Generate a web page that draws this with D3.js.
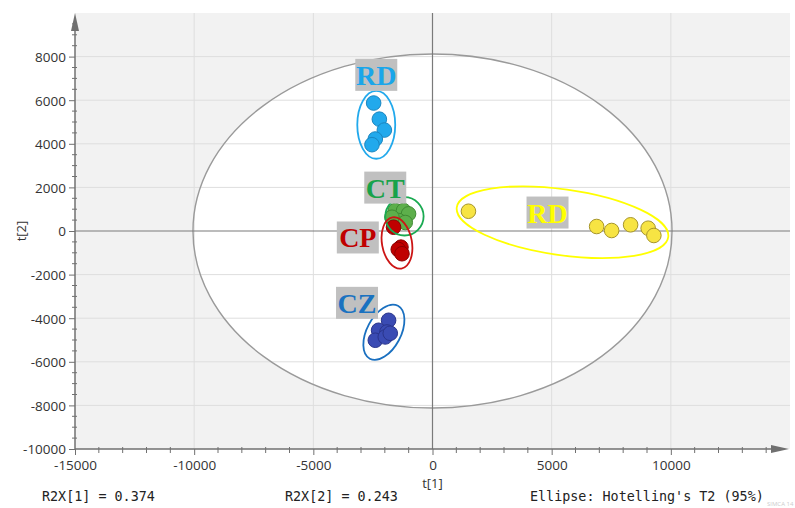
<!DOCTYPE html>
<html>
<head>
<meta charset="utf-8">
<script src="https://cdn.jsdelivr.net/npm/d3@7"></script>
<style>
  html, body { margin: 0; padding: 0; background: #ffffff; }
  svg { display: block; }
</style>
</head>
<body>
<svg id="chart" width="795" height="508"></svg>
<script>
// Score values (t[1], t[2]) for each sample group
const groupNames = ["RD", "CT", "CP", "CZ", "RD"];
const rdBlueT1 = [-2470, -2230, -2020, -2400, -2540];
const rdBlueT2 = [5870, 5130, 4630, 4220, 3960];
const ctT1 = [-1563, -1215, -1005, -1424, -1701, -1144];
const ctT2 = [938, 938, 787, 481, 632, 389];
const cpT1 = [-1634, -1324, -1437, -1282];
const cpT2 = [174, -741, -847, -1043];
const czT1 = [-1843, -2262, -1910, -2400, -1982, -1772];
const czT2 = [-4096, -4554, -4632, -5011, -4860, -4691];
const rdYellowT1 = [1508, 6887, 7516, 8312, 9049, 9288];
const rdYellowT2 = [906, 206, 23, 284, 128, -206];

// Axis ticks
const xTicks = [-15000, -10000, -5000, 0, 5000, 10000];
const yTicks = [-10000, -8000, -6000, -4000, -2000, 0, 2000, 4000, 6000, 8000];

// Hotelling's T2 (95%) ellipse semi-axes
const t2Radius = [10050, 8120];

// Footer statistics
const footerTexts = ["R2X[1] = 0.374", "R2X[2] = 0.243", "Ellipse: Hotelling's T2 (95%)"];

const series = [
  { name: groupNames[0], t1: rdBlueT1, t2: rdBlueT2, fill: "#22a9ec", stroke: "#1a86c0", ring: "#22a9ec", text: "#1aa6ea",
    ell: { cx: -2360, cy: 4870, rx: 796, ry: 1556, rot: 0 }, lab: { x: -2359, y: 7162 } },
  { name: groupNames[1], t1: ctT1, t2: ctT2, fill: "#5daf4b", stroke: "#3f8a33", ring: "#1aaa52", text: "#19a24a",
    ell: { cx: -1177, cy: 673, rx: 804, ry: 879, rot: 0 }, lab: { x: -1982, y: 1991 } },
  { name: groupNames[2], t1: cpT1, t2: cpT2, fill: "#c00000", stroke: "#8c0000", ring: "#cc1515", text: "#c00000",
    ell: { cx: -1491, cy: -549, rx: 628, ry: 1190, rot: -10 }, lab: { x: -3134, y: -297 } },
  { name: groupNames[3], t1: czT1, t2: czT2, fill: "#3a4bb3", stroke: "#2a358c", ring: "#1a70c0", text: "#1a72c0",
    ell: { cx: -2040, cy: -4645, rx: 1257, ry: 778, rot: -62 }, lab: { x: -3167, y: -3295 } },
  { name: groupNames[4], t1: rdYellowT1, t2: rdYellowT2, fill: "#f7e443", stroke: "#a6952a", ring: "#ffff00", text: "#ffff00",
    ell: { cx: 5455, cy: 403, rx: 4480, ry: 1510, rot: 8 }, lab: { x: 4826, y: 847 } }
];

const svg = d3.select("#chart");
const plot = { left: 75, right: 790, top: 13, bottom: 449 };

const x = d3.scaleLinear().domain([-15000, 15000]).range([plot.left, plot.right]);
const y = d3.scaleLinear().domain([-10000, 10000]).range([plot.bottom, plot.top]);

const uiFont = "'Open Sans', 'Noto Sans', sans-serif";
const monoFont = "'DejaVu Sans Mono', 'Liberation Mono', monospace";

// Plot background
svg.append("rect")
  .attr("x", plot.left).attr("y", plot.top)
  .attr("width", plot.right - plot.left).attr("height", plot.bottom - plot.top)
  .attr("fill", "#f2f2f2");

svg.append("defs").append("clipPath").attr("id", "plotClip")
  .append("rect")
  .attr("x", plot.left).attr("y", plot.top)
  .attr("width", plot.right - plot.left).attr("height", plot.bottom - plot.top);

const inner = svg.append("g").attr("clip-path", "url(#plotClip)");

// T2 ellipse interior
const t2rx = x(t2Radius[0]) - x(0);
const t2ry = y(0) - y(t2Radius[1]);
inner.append("ellipse")
  .attr("cx", x(0)).attr("cy", y(0))
  .attr("rx", t2rx).attr("ry", t2ry)
  .attr("fill", "#ffffff");

// Grid lines
inner.selectAll(".gx").data(xTicks.filter(d => d !== 0 && d !== -15000)).join("line")
  .attr("x1", d => x(d)).attr("x2", d => x(d))
  .attr("y1", plot.top).attr("y2", plot.bottom)
  .attr("stroke", "#dedede").attr("stroke-width", 1);
inner.selectAll(".gy").data(yTicks.filter(d => d !== 0 && d !== -10000)).join("line")
  .attr("x1", plot.left).attr("x2", plot.right)
  .attr("y1", d => y(d)).attr("y2", d => y(d))
  .attr("stroke", "#dedede").attr("stroke-width", 1);

// T2 ellipse outline
inner.append("ellipse")
  .attr("cx", x(0)).attr("cy", y(0))
  .attr("rx", t2rx).attr("ry", t2ry)
  .attr("fill", "none").attr("stroke", "#9a9a9a").attr("stroke-width", 1.4);

// Zero lines
inner.append("line")
  .attr("x1", x(0)).attr("x2", x(0)).attr("y1", plot.top).attr("y2", plot.bottom)
  .attr("stroke", "#7a7a7a").attr("stroke-width", 1.2);
inner.append("line")
  .attr("x1", plot.left).attr("x2", plot.right).attr("y1", y(0)).attr("y2", y(0))
  .attr("stroke", "#7a7a7a").attr("stroke-width", 1.2);

// Points
series.forEach(s => {
  const pts = s.t1.map((v, i) => [v, s.t2[i]]);
  inner.append("g").selectAll("circle").data(pts).join("circle")
    .attr("cx", d => x(d[0])).attr("cy", d => y(d[1]))
    .attr("r", 7.3)
    .attr("fill", s.fill)
    .attr("stroke", s.stroke).attr("stroke-width", 1);
});

// Group ellipses
series.forEach(s => {
  const e = s.ell;
  const cx = x(e.cx), cy = y(e.cy);
  inner.append("ellipse")
    .attr("cx", cx).attr("cy", cy)
    .attr("rx", x(e.rx) - x(0))
    .attr("ry", y(0) - y(e.ry))
    .attr("transform", `rotate(${e.rot},${cx},${cy})`)
    .attr("fill", "none")
    .attr("stroke", s.ring).attr("stroke-width", 1.8);
});

// Group labels with gray boxes
series.forEach(s => {
  const cx = x(s.lab.x), cy = y(s.lab.y);
  const g = inner.append("g");
  g.append("rect")
    .attr("x", cx - 21).attr("y", cy - 16)
    .attr("width", 42).attr("height", 32)
    .attr("fill", "#c0c0c0");
  g.append("text")
    .attr("x", cx).attr("y", cy + 10)
    .attr("text-anchor", "middle")
    .attr("font-family", "'Liberation Serif', 'DejaVu Serif', serif")
    .attr("font-weight", "bold")
    .attr("font-size", 28)
    .attr("fill", s.text)
    .text(s.name);
});

// Axes
const axisColor = "#707070";
const axes = svg.append("g");

// Minor ticks
const xMinor = d3.range(-15000, 15000, 1000).filter(d => d % 5000 !== 0);
const yMinor = d3.range(-10000, 10000, 500).filter(d => d % 2000 !== 0);
axes.selectAll(".mx").data(xMinor).join("line")
  .attr("x1", d => x(d)).attr("x2", d => x(d))
  .attr("y1", plot.bottom - 2).attr("y2", plot.bottom + 4)
  .attr("stroke", axisColor).attr("stroke-width", 1);
axes.selectAll(".my").data(yMinor).join("line")
  .attr("x1", plot.left - 3).attr("x2", plot.left + 2)
  .attr("y1", d => y(d)).attr("y2", d => y(d))
  .attr("stroke", axisColor).attr("stroke-width", 1);

// Plain hyphen for negative tick labels
const tickFmt = d => String(d);
const xAxis = d3.axisBottom(x).tickValues(xTicks).tickSize(6).tickPadding(5).tickFormat(tickFmt);
const yAxis = d3.axisLeft(y).tickValues(yTicks).tickSize(6).tickPadding(3).tickFormat(tickFmt);

const gx = axes.append("g").attr("transform", `translate(0,${plot.bottom})`).call(xAxis);
const gy = axes.append("g").attr("transform", `translate(${plot.left},0)`).call(yAxis);
[gx, gy].forEach(g => {
  g.select(".domain").remove();
  g.selectAll(".tick line").attr("stroke", axisColor);
  g.selectAll(".tick text")
    .attr("font-family", uiFont).attr("font-size", 13.5).attr("fill", "#333333");
});
gy.selectAll(".tick text").attr("dy", "0.36em");

// Axis lines with arrow heads
axes.append("line")
  .attr("x1", plot.left).attr("x2", plot.left)
  .attr("y1", plot.bottom).attr("y2", plot.top + 12)
  .attr("stroke", axisColor).attr("stroke-width", 1.5);
axes.append("path")
  .attr("d", `M${plot.left},${plot.top} L${plot.left - 4},${plot.top + 18} L${plot.left + 4},${plot.top + 18} Z`)
  .attr("fill", axisColor);
axes.append("line")
  .attr("x1", plot.left).attr("x2", plot.right - 14)
  .attr("y1", plot.bottom).attr("y2", plot.bottom)
  .attr("stroke", axisColor).attr("stroke-width", 1.5);
axes.append("path")
  .attr("d", `M${plot.right - 1},${plot.bottom} L${plot.right - 19},${plot.bottom - 4} L${plot.right - 19},${plot.bottom + 4} Z`)
  .attr("fill", axisColor);

// Axis titles
svg.append("text")
  .attr("x", x(0)).attr("y", 488)
  .attr("text-anchor", "middle")
  .attr("font-family", uiFont).attr("font-size", 13).attr("fill", "#333333")
  .text("t[1]");
svg.append("text")
  .attr("transform", `translate(26,${y(0)}) rotate(-90)`)
  .attr("text-anchor", "middle")
  .attr("font-family", uiFont).attr("font-size", 13).attr("fill", "#333333")
  .text("t[2]");

// Footer statistics
const footerX = [42, 285, 530];
footerTexts.forEach((t, i) => {
  svg.append("text")
    .attr("x", footerX[i]).attr("y", 501)
    .attr("font-family", monoFont).attr("font-size", 13.4).attr("fill", "#222222")
    .text(t);
});

// Software watermark
svg.append("text")
  .attr("x", 767).attr("y", 506)
  .attr("font-family", uiFont).attr("font-size", 6).attr("fill", "#cccccc")
  .text("SIMCA 14");
</script>
</body>
</html>
